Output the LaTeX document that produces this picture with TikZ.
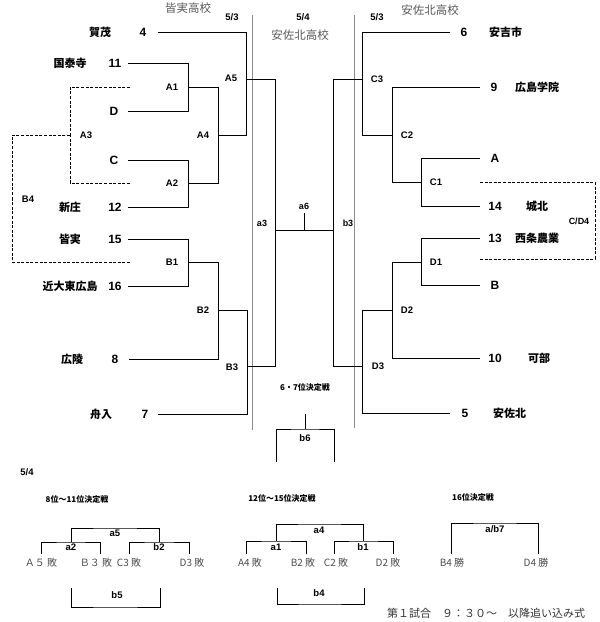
\documentclass[tikz,border=0pt]{standalone}
\usepackage{fontspec}
\setmainfont{Liberation Sans}
\newfontfamily\cjk{Noto Sans CJK JP}
\begin{document}
\begin{tikzpicture}[x=1pt,y=-1pt,
  ln/.style={line width=1pt,black},
  dsh/.style={line width=0.9pt,black,dash pattern=on 3pt off 1.6pt},
  gl/.style={line width=0.8pt,black!45},
  team/.style={font={\cjk\bfseries\fontsize{11}{12}\selectfont},inner sep=0pt},
  num/.style={font={\bfseries\fontsize{12}{12}\selectfont},inner sep=0pt},
  mt/.style={font={\bfseries\fontsize{9.5}{10}\selectfont},inner sep=0pt},
  sm/.style={font={\bfseries\fontsize{9}{10}\selectfont},inner sep=0pt},
  dt/.style={font={\bfseries\fontsize{9.5}{10}\selectfont},inner sep=0pt},
  school/.style={font={\cjk\fontsize{11.5}{12}\selectfont},text=black!65,inner sep=0pt},
  lose/.style={font={\cjk\fontsize{10}{11}\selectfont},text=black!70,inner sep=0pt},
  ttl/.style={font={\cjk\bfseries\fontsize{8}{9}\selectfont},inner sep=0pt},
  foot/.style={font={\cjk\fontsize{11}{12}\selectfont},text=black!80,inner sep=0pt}
]
\useasboundingbox (0,0) rectangle (600,622);

% ---------- headers
\node[school] (hL) at (188,8) {皆実高校};
\node[school] (hC) at (300,35) {安佐北高校};
\node[school] (hR) at (430,10) {安佐北高校};
\node[dt] (d1) at (232,17) {5/3};
\node[dt] (d2) at (303,17) {5/4};
\node[dt] (d3) at (377,17) {5/3};

% ---------- gray separators
\coordinate (gLt) at (252,15); \coordinate (gLb) at (252,430);
\coordinate (gRt) at (354,15); \coordinate (gRb) at (354,428);
\draw[gl] (gLt) -- (gLb);
\draw[gl] (gRt) -- (gRb);

% ---------- left teams
\node[team] (tKamo) at (100,32) {賀茂};   \node[num] (n4) at (143,32) {4};
\node[team] (tKok) at (70,63) {国泰寺};   \node[num] (n11) at (115,63) {11};
\node[num] (nD) at (114,111) {D};
\node[num] (nC) at (114,160) {C};
\node[team] (tShin) at (70,207) {新庄};  \node[num] (n12) at (115,207) {12};
\node[team] (tMina) at (70,239) {皆実};  \node[num] (n15) at (115,239) {15};
\node[team] (tKin) at (70,286) {近大東広島}; \node[num] (n16) at (115,286) {16};
\node[team] (tKoryo) at (72,359) {広陵}; \node[num] (n8) at (115,359) {8};
\node[team] (tFun) at (101,414) {舟入};  \node[num] (n7) at (145,414) {7};

\coordinate (s4) at (158,32);  \coordinate (s11) at (128,63);
\coordinate (sD) at (128,111); \coordinate (sC) at (128,160);
\coordinate (s12) at (128,207); \coordinate (s15) at (128,239);
\coordinate (s16) at (128,286); \coordinate (s8) at (129,359);
\coordinate (s7) at (158,414);

\coordinate (jA1) at (188,87);  \coordinate (jA2) at (188,183);
\coordinate (jA4) at (218,135); \coordinate (jA5) at (246,79);
\coordinate (jB1) at (188,262); \coordinate (jB2) at (218,310);
\coordinate (jB3) at (247,366);
\coordinate (ja3) at (275,230); \coordinate (ja6) at (304,230);
\coordinate (jb3) at (333,230); \coordinate (ta6) at (304,213);

\draw[ln] (s11) -| (jA1);  \draw[ln] (sD) -| (jA1);
\draw[ln] (sC) -| (jA2);   \draw[ln] (s12) -| (jA2);
\draw[ln] (jA1) -| (jA4);  \draw[ln] (jA2) -| (jA4);
\draw[ln] (s4) -| (jA5);   \draw[ln] (jA4) -| (jA5);
\draw[ln] (s15) -| (jB1);  \draw[ln] (s16) -| (jB1);
\draw[ln] (jB1) -| (jB2);  \draw[ln] (s8) -| (jB2);
\draw[ln] (jB2) -| (jB3);  \draw[ln] (s7) -| (jB3);
\draw[ln] (jA5) -| (ja3);  \draw[ln] (jB3) -| (ja3);
\draw[ln] (ja3) -- (jb3);  \draw[ln] (ja6) -- (ta6);

% left dashed
\coordinate (dA3t) at (130,87); \coordinate (dA3b) at (130,183);
\coordinate (jA3) at (70,135);  \coordinate (kB4) at (12,198);
\coordinate (dB4) at (130,262);
\draw[dsh] (dA3t) -| (jA3); \draw[dsh] (dA3b) -| (jA3);
\draw[dsh] (jA3) -| (kB4);  \draw[dsh] (dB4) -| (kB4);

% left match labels
\node[mt] (lA1) at (172,87) {A1};
\node[mt] (lA2) at (172,183) {A2};
\node[mt] (lA3) at (86,135) {A3};
\node[mt] (lA4) at (203,135) {A4};
\node[mt] (lA5) at (231,78) {A5};
\node[mt] (lB1) at (172,262) {B1};
\node[mt] (lB2) at (203,310) {B2};
\node[mt] (lB3) at (232,367) {B3};
\node[mt] (lB4) at (28,199) {B4};

% ---------- right teams
\node[num] (n6) at (464,32) {6};   \node[team,anchor=west] (tAki) at (489,32) {安吉市};
\node[num] (n9) at (494,87) {9};   \node[team,anchor=west] (tHiro) at (515,87) {広島学院};
\node[num] (nA) at (495,158) {A};
\node[num] (n14) at (495,206) {14}; \node[team,anchor=west] (tJoh) at (526,206) {城北};
\node[num] (n13) at (495,238) {13}; \node[team,anchor=west] (tSai) at (515,238) {西条農業};
\node[num] (nB) at (495,285) {B};
\node[num] (n10) at (495,358) {10}; \node[team,anchor=west] (tKabe) at (528,358) {可部};
\node[num] (n5) at (465,413) {5};  \node[team,anchor=west] (tAsa) at (493,413) {安佐北};

\coordinate (s6) at (450,32);  \coordinate (s9) at (480,87);
\coordinate (sA) at (480,158); \coordinate (s14) at (480,206);
\coordinate (s13) at (480,238); \coordinate (sB) at (480,285);
\coordinate (s10) at (480,358); \coordinate (s5) at (450,413);

\coordinate (jC1) at (421,182); \coordinate (jC2) at (392,135);
\coordinate (jC3) at (362,79);  \coordinate (jD1) at (421,262);
\coordinate (jD2) at (392,310); \coordinate (jD3) at (362,366);

\draw[ln] (sA) -| (jC1);  \draw[ln] (s14) -| (jC1);
\draw[ln] (s9) -| (jC2);  \draw[ln] (jC1) -| (jC2);
\draw[ln] (s6) -| (jC3);  \draw[ln] (jC2) -| (jC3);
\draw[ln] (s13) -| (jD1); \draw[ln] (sB) -| (jD1);
\draw[ln] (jD1) -| (jD2); \draw[ln] (s10) -| (jD2);
\draw[ln] (jD2) -| (jD3); \draw[ln] (s5) -| (jD3);
\draw[ln] (jC3) -| (jb3); \draw[ln] (jD3) -| (jb3);

% right dashed
\coordinate (dC1) at (480,182); \coordinate (dD1) at (480,259);
\coordinate (kCD) at (595,221);
\draw[dsh] (dC1) -| (kCD); \draw[dsh] (dD1) -| (kCD);

% right match labels
\node[mt] (lC1) at (436,182) {C1};
\node[mt] (lC2) at (407,135) {C2};
\node[mt] (lC3) at (377,79) {C3};
\node[mt] (lD1) at (436,262) {D1};
\node[mt] (lD2) at (407,310) {D2};
\node[mt] (lD3) at (378,366) {D3};
\node[sm] (lCD4) at (579,221) {C/D4};

% centre labels
\node[sm] (la3) at (262,223) {a3};
\node[sm] (lb3) at (348,223) {b3};
\node[sm] (la6) at (304,206) {a6};
\node[ttl] (t67) at (305,387) {6・7位決定戦};

% b6 bracket
\coordinate (b6t) at (305,414); \coordinate (b6m) at (305,429);
\coordinate (b6l) at (276,462); \coordinate (b6r) at (334,462);
\draw[ln] (b6t) -- (b6m);
\draw[ln] (b6l) |- (b6m) -| (b6r);
\node[mt] (lb6) at (305,438) {b6};

% ---------- bottom section
\node[dt] (d4) at (27,472) {5/4};
\node[ttl] (t811) at (77,499) {8位～11位決定戦};
\node[ttl] (t1215) at (282,498) {12位～15位決定戦};
\node[ttl] (t16) at (473,497) {16位決定戦};

% 8-11
\coordinate (fA5) at (41,554);  \coordinate (fB3) at (100,554);
\coordinate (fC3) at (129,554); \coordinate (fD3) at (189,554);
\coordinate (ma2) at (71,542);  \coordinate (mb2) at (159,542);
\coordinate (ma5) at (115,528);
\draw[ln] (fA5) |- (ma2) -| (fB3);
\draw[ln] (fC3) |- (mb2) -| (fD3);
\draw[ln] (ma2) |- (ma5) -| (mb2);
\coordinate (b5l) at (71,588); \coordinate (b5r) at (160,588);
\coordinate (b5m) at (115,607);
\draw[ln] (b5l) |- (b5m) -| (b5r);
\node[mt] (la2) at (71,547) {a2};
\node[mt] (lb2) at (159,547) {b2};
\node[mt] (la5) at (115,533) {a5};
\node[mt] (lb5) at (117,595) {b5};
\node[lose] (xA5) at (41,563) {Ａ５ 敗};
\node[lose] (xB3) at (96,563) {Ｂ３ 敗};
\node[lose] (xC3) at (129,563) {C3 敗};
\node[lose] (xD3) at (192,563) {D3 敗};

% 12-15
\coordinate (fA4) at (246,554); \coordinate (fB2) at (306,554);
\coordinate (fC2) at (334,554); \coordinate (fD2) at (393,554);
\coordinate (ma1) at (276,541); \coordinate (mb1) at (363,541);
\coordinate (ma4) at (319,524);
\draw[ln] (fA4) |- (ma1) -| (fB2);
\draw[ln] (fC2) |- (mb1) -| (fD2);
\draw[ln] (ma1) |- (ma4) -| (mb1);
\coordinate (b4l) at (277,588); \coordinate (b4r) at (364,588);
\coordinate (b4m) at (319,604);
\draw[ln] (b4l) |- (b4m) -| (b4r);
\node[mt] (la1) at (276,547) {a1};
\node[mt] (lb1) at (363,547) {b1};
\node[mt] (la4) at (319,530) {a4};
\node[mt] (lb4) at (319,593) {b4};
\node[lose] (xA4) at (250,563) {A4 敗};
\node[lose] (xB2) at (303,563) {B2 敗};
\node[lose] (xC2) at (336,563) {C2 敗};
\node[lose] (xD2) at (388,563) {D2 敗};

% 16
\coordinate (fB4) at (451,554); \coordinate (fD4) at (538,554);
\coordinate (mab7) at (495,523);
\draw[ln] (fB4) |- (mab7) -| (fD4);
\node[mt] (lab7) at (495,529) {a/b7};
\node[lose] (xB4) at (452,563) {B4 勝};
\node[lose] (xD4) at (536,563) {D4 勝};

% footer
\node[foot] (ft) at (486,613) {第１試合　９：３０～　以降追い込み式};
\end{tikzpicture}
\end{document}
